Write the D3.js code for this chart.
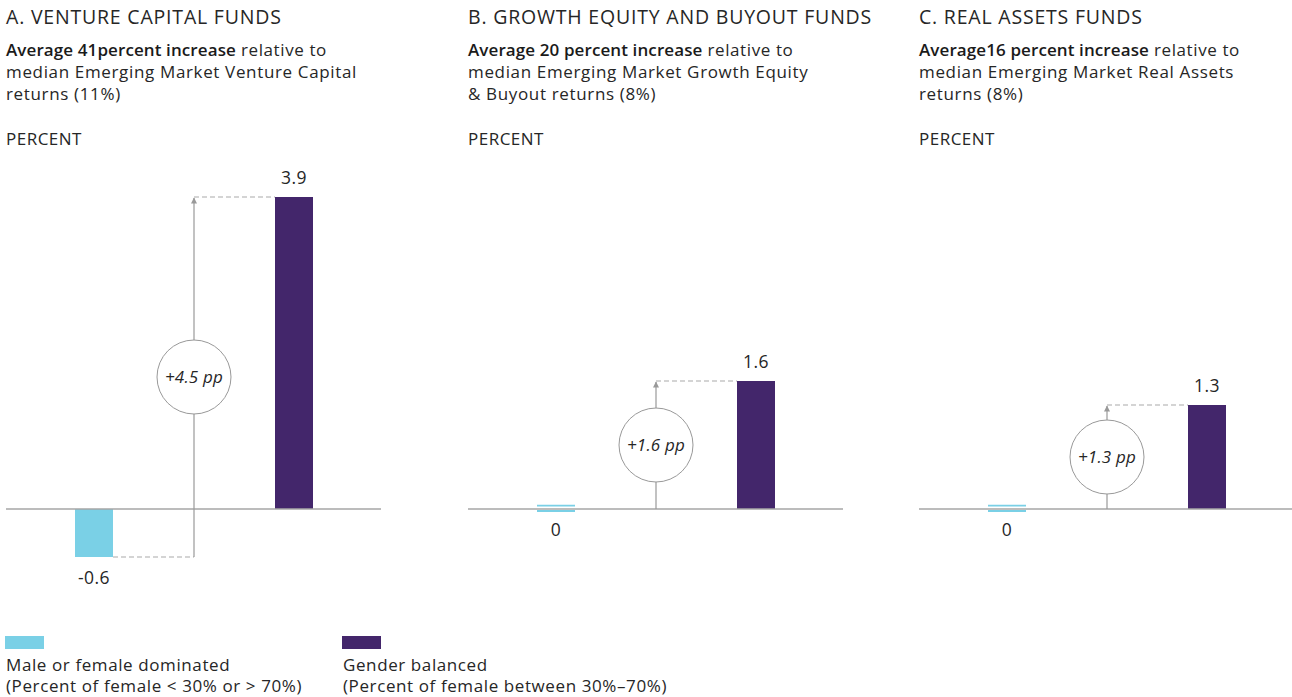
<!DOCTYPE html>
<html>
<head>
<meta charset="utf-8">
<script src="https://cdn.jsdelivr.net/npm/d3@7"></script>
<style>
  body { margin: 0; background: #fff; }
  svg text { font-family: "Open Sans", "Noto Sans", sans-serif; fill: #262626; }
</style>
</head>
<body>
<svg id="chart" width="1292" height="697"></svg>
<script>
// panels
var panelTitles = ["A. VENTURE CAPITAL FUNDS", "B. GROWTH EQUITY AND BUYOUT FUNDS", "C. REAL ASSETS FUNDS"];
var panelLeads = ["Average 41percent increase", "Average 20 percent increase", "Average16 percent increase"];
var panelSubs = [
  [" relative to", "median Emerging Market Venture Capital", "returns (11%)"],
  [" relative to", "median Emerging Market Growth Equity", "& Buyout returns (8%)"],
  [" relative to", "median Emerging Market Real Assets", "returns (8%)"]
];
var unitLabel = "PERCENT";
// series
var categories = ["dominated", "balanced"];
var dominatedValues = [-0.6, 0, 0];
var balancedValues = [3.9, 1.6, 1.3];
var gapLabels = ["+4.5 pp", "+1.6 pp", "+1.3 pp"];
// legend
var legendNames = ["Male or female dominated", "Gender balanced"];
var legendNotes = ["(Percent of female < 30% or > 70%)", "(Percent of female between 30%\u201370%)"];

var colors = {dominated: "#7ad0e6", balanced: "#43266b"};
var svg = d3.select("#chart");

var panelX = [6, 468, 919];
var panelW = 375;

var y = d3.scaleLinear().domain([0, 3.9]).range([509, 197]);
var x = d3.scalePoint().domain(categories).range([88, 288]);
var barW = 38;

svg.append("defs").append("marker")
  .attr("id", "arrow")
  .attr("viewBox", "0 0 10 10")
  .attr("refX", 9).attr("refY", 5)
  .attr("markerWidth", 8).attr("markerHeight", 6)
  .attr("markerUnits", "userSpaceOnUse")
  .attr("orient", "auto")
  .append("path")
  .attr("d", "M0,0 L10,5 L0,10 Z")
  .attr("fill", "#999");

function txt(sel, size, ls) {
  return sel.attr("font-size", size).attr("letter-spacing", ls || 0);
}

panelTitles.forEach(function(title, i) {
  var g = svg.append("g").attr("transform", "translate(" + panelX[i] + ",0)");

  txt(g.append("text").attr("x", 0).attr("y", 24), 19.5, 0.8).text(title);

  var lead = txt(g.append("text").attr("x", 0).attr("y", 56), 17, 0.1);
  lead.append("tspan").attr("font-weight", 600).attr("fill", "#1a1a1a").text(panelLeads[i]);
  lead.append("tspan").attr("letter-spacing", 0.6).text(panelSubs[i][0]);
  txt(g.append("text").attr("x", 0).attr("y", 78), 17, 0.65).text(panelSubs[i][1]);
  txt(g.append("text").attr("x", 0).attr("y", 100), 17, 0.65).text(panelSubs[i][2]);

  txt(g.append("text").attr("x", 0).attr("y", 145), 17, 0.5).text(unitLabel);

  var dv = dominatedValues[i], bv = balancedValues[i];
  var xd = x("dominated"), xb = x("balanced");
  var xm = (xd + xb) / 2;
  var y0 = y(0);

  // dominated bar
  if (dv !== 0) {
    g.append("rect")
      .attr("x", xd - barW / 2).attr("width", barW)
      .attr("y", Math.min(y(dv), y0)).attr("height", Math.abs(y(dv) - y0))
      .attr("fill", colors.dominated);
  } else {
    [y0 - 3.3, y0 + 2].forEach(function(yy) {
      g.append("line")
        .attr("x1", xd - barW / 2).attr("x2", xd + barW / 2)
        .attr("y1", yy).attr("y2", yy)
        .attr("stroke", colors.dominated).attr("stroke-width", 1.8);
    });
  }
  // balanced bar
  g.append("rect")
    .attr("x", xb - barW / 2).attr("width", barW)
    .attr("y", y(bv)).attr("height", y0 - y(bv))
    .attr("fill", colors.balanced);

  // axis line
  g.append("line").attr("x1", 0).attr("x2", panelW)
    .attr("y1", y0).attr("y2", y0)
    .attr("stroke", "#a6a6a6").attr("stroke-width", 1.3);

  // dashed connectors
  var yLow = y(Math.min(dv, 0)), yTop = y(bv);
  if (dv < 0) {
    g.append("line").attr("x1", xd + barW / 2).attr("x2", xm)
      .attr("y1", yLow).attr("y2", yLow)
      .attr("stroke", "#aaa").attr("stroke-width", 1.2).attr("stroke-dasharray", "5,3");
  }
  g.append("line").attr("x1", xm).attr("x2", xb - barW / 2)
    .attr("y1", yTop).attr("y2", yTop)
    .attr("stroke", "#aaa").attr("stroke-width", 1.2).attr("stroke-dasharray", "5,3");

  // arrow
  g.append("line").attr("x1", xm).attr("x2", xm)
    .attr("y1", yLow).attr("y2", yTop + 1)
    .attr("stroke", "#999").attr("stroke-width", 1.2)
    .attr("marker-end", "url(#arrow)");

  var cy = (yLow + yTop) / 2;
  g.append("circle").attr("cx", xm).attr("cy", cy).attr("r", 37)
    .attr("fill", "#fff").attr("stroke", "#999").attr("stroke-width", 1);
  txt(g.append("text").attr("x", xm).attr("y", cy + 6)
    .attr("text-anchor", "middle").attr("font-style", "italic"), 17, 0.2)
    .text(gapLabels[i]);

  // value labels
  txt(g.append("text").attr("x", xb).attr("y", yTop - 13)
    .attr("text-anchor", "middle"), 17.5, 0.4)
    .text(bv);
  txt(g.append("text").attr("x", xd).attr("y", Math.max(yLow, y0) + 27)
    .attr("text-anchor", "middle"), 17.5, 0.4)
    .text(dv);
});

// legend
var legX = [5, 342];
categories.forEach(function(c, i) {
  svg.append("rect").attr("x", legX[i]).attr("y", 636).attr("width", 39).attr("height", 13)
    .attr("fill", colors[c]);
  txt(svg.append("text").attr("x", legX[i] + 1).attr("y", 671), 17, 0.6).text(legendNames[i]);
  txt(svg.append("text").attr("x", legX[i] + 1).attr("y", 692), 17, 0.6).text(legendNotes[i]);
});
</script>
</body>
</html>
